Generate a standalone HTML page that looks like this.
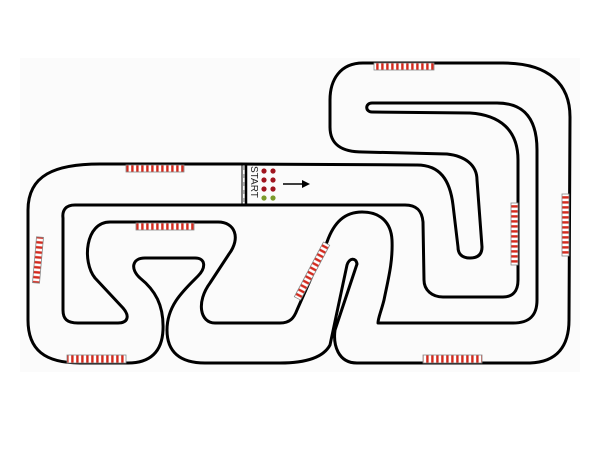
<!DOCTYPE html>
<html><head><meta charset="utf-8"><style>html,body{margin:0;padding:0;background:#fff}svg{display:block}</style></head>
<body>
<svg width="600" height="450" viewBox="0 0 600 450" xmlns="http://www.w3.org/2000/svg">
<defs>
<pattern id="kb" width="5" height="10" patternUnits="userSpaceOnUse">
<rect width="5" height="10" fill="#fff"/><rect x="1.2" width="2.4" height="10" fill="#d42a1e"/>
</pattern>
</defs>
<rect x="20" y="58" width="560" height="314" fill="#fbfbfb"/>
<g fill="none" stroke="#000" stroke-width="3" stroke-linejoin="round">
<path d="M240,164 L100,164 C55,164 28,175 28,210 L28,320 C28,350 45,363 80,363 L128,363 C150,363 162,352 163,330 C164,305 155,290 140,278 C130,269 132,258 145,258 L195,258 C206,258 206,268 198,276 C184,290 167,305 167,330 C167,352 180,363 205,363 L280,363 C300,363 322,360 330,345 L347,265 C349,258 356,257 357,264 L335,330 C333,345 338,363 357,363 L530,363 C558,362 569,345 569,320 L570,117 C570,85 550,63 503,63 L363,63 C340,63 330,80 330,100 L330,127 C330,145 342,152 363,152 L447,154 C465,156 477,165 477,180 L482,247 C482,256 476,258 470,258 C462,258 458,254 458,247 L453,205 C450,180 440,165 417,165 Z"/>
<path d="M240,205 L75,205 C66,205 62,210 63,218 L63,310 C63,319 67,323 78,323 L118,323 C128,323 130,316 123,308 L95,278 C82,262 85,222 110,222 L218,222 C235,222 241,238 229,254 L210,283 C196,302 200,323 215,323 L280,323 C290,323 294,318 297,310 L327,242 C334,222 345,212 362,212 C380,212 391,222 392,240 C393,262 388,280 384,300 C381,312 378,318 378,323 L513,323 C530,323 537,315 537,300 L537,150 C537,120 525,103 497,103 L372,103 C365,103 365,112 372,112 L470,113 C500,115 518,130 518,160 L518,280 C518,292 512,297 503,297 L443,297 C432,297 424,290 424,280 L423,222 C422,211 417,205 405,205 Z"/>
</g>
<line x1="242" y1="164" x2="242" y2="205" stroke="#000" stroke-width="1"/>
<line x1="246" y1="164" x2="246" y2="205" stroke="#000" stroke-width="2.5"/>
<line x1="244" y1="166" x2="244" y2="203" stroke="#999" stroke-width="1.5" stroke-dasharray="4,4"/>
<text x="0" y="0" transform="translate(251,166) rotate(90)" font-family="Liberation Sans, sans-serif" font-size="10" fill="#222">START</text>
<g fill="#a0141e">
<circle cx="264" cy="171" r="2.6"/><circle cx="273" cy="171" r="2.6"/>
<circle cx="264" cy="180" r="2.6"/><circle cx="273" cy="180" r="2.6"/>
<circle cx="264" cy="189" r="2.6"/><circle cx="273" cy="189" r="2.6"/>
</g>
<g fill="#7a9a2a"><circle cx="264" cy="198" r="2.6"/><circle cx="273" cy="198" r="2.6"/></g>
<line x1="283" y1="184" x2="305" y2="184" stroke="#000" stroke-width="1.5"/>
<path d="M310,184 L302,180 L302,188 Z" fill="#000"/>
<g stroke="#888" stroke-width="0.8" fill="url(#kb)">
<rect x="126" y="165" width="58" height="7"/>
<rect x="136" y="223" width="58" height="7"/>
<rect x="67" y="355" width="59" height="8"/>
<rect x="374" y="63" width="60" height="7"/>
<rect x="423" y="355" width="59" height="8"/>
<rect x="-23" y="-3.5" width="46" height="7" transform="translate(38,260) rotate(95)"/>
<rect x="-31" y="-3.5" width="62" height="7" transform="translate(312,271) rotate(-62)"/>
<rect x="-31" y="-3.5" width="62" height="7" transform="translate(514.5,234) rotate(90)"/>
<rect x="-31" y="-3.5" width="62" height="7" transform="translate(565.5,225) rotate(90)"/>
</g>
</svg>
</body></html>
